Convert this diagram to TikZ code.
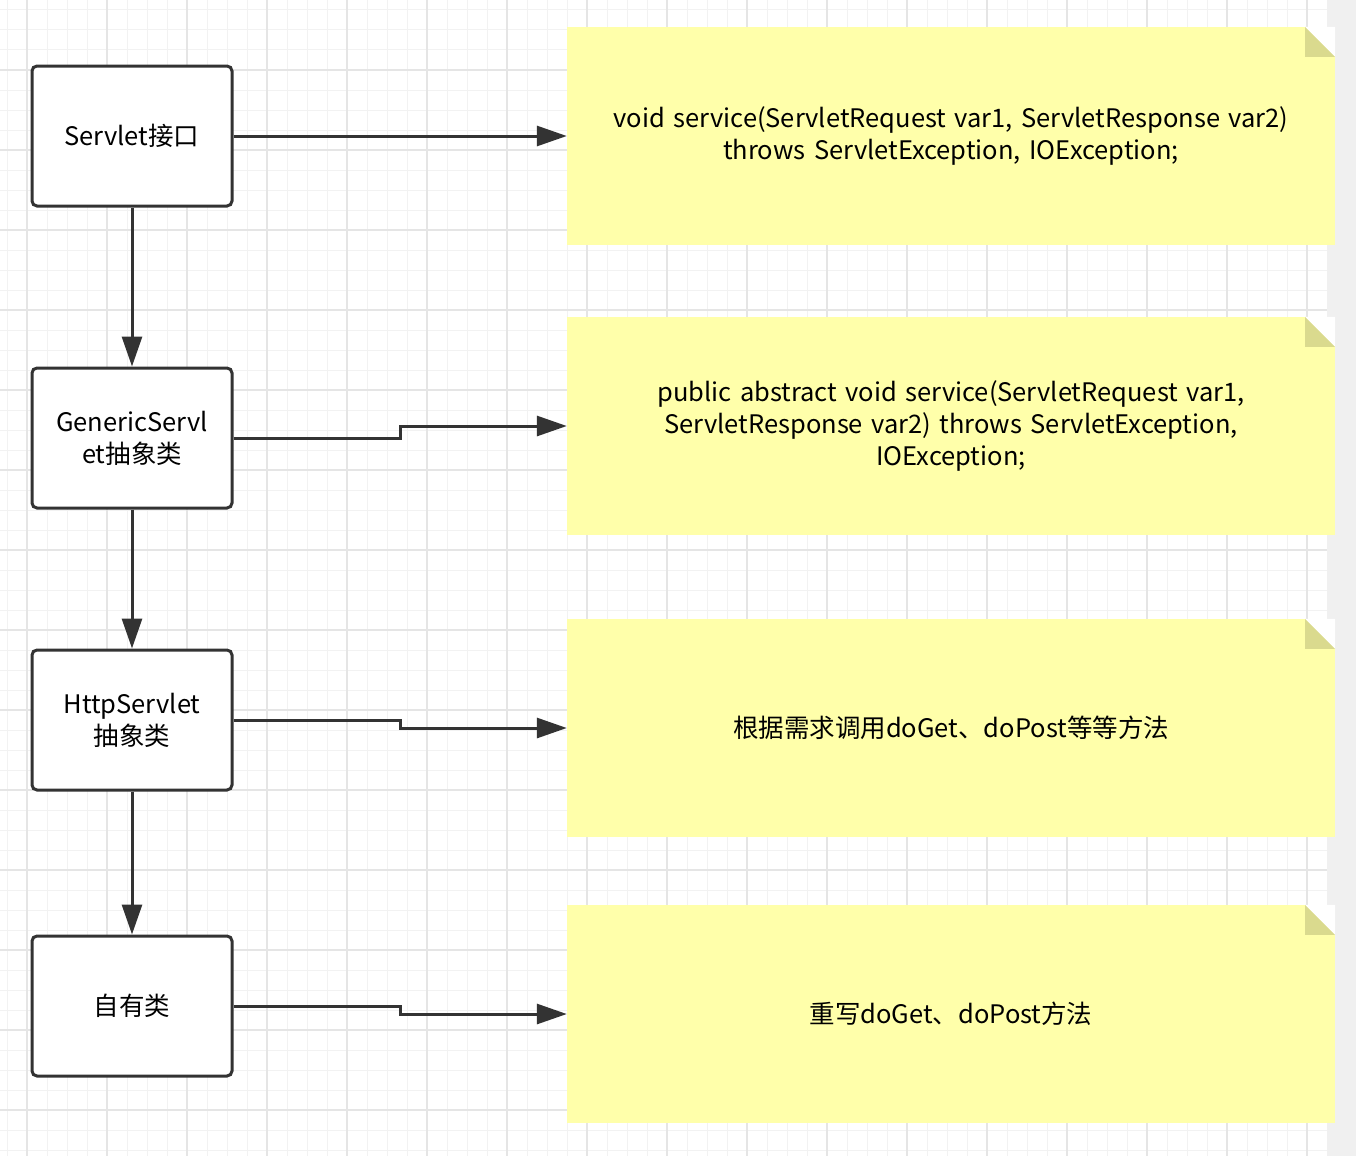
\documentclass[tikz,border=0pt]{standalone}
\usepackage{fontspec}
\setmainfont{Noto Sans CJK SC}
\usetikzlibrary{arrows.meta}
\definecolor{ln}{HTML}{333333}
\definecolor{note}{HTML}{FFFFAA}
\definecolor{fold}{HTML}{DADA8E}
\begin{document}
\begin{tikzpicture}[x=1pt,y=-1pt,
  box/.style={draw=ln,line width=3pt,rounded corners=5pt,minimum width=200pt,minimum height=140pt,fill=white,align=center,inner sep=4pt,font=\fontsize{25.5}{32}\selectfont,text width=170pt},
  notes/.style={fill=note,minimum width=768pt,minimum height=218pt,align=center,font=\fontsize{25.5}{32}\selectfont,text width=720pt,inner sep=0pt},
  arr/.style={draw=ln,line width=3pt,-{Triangle[length=30pt,width=20pt]}}]
\useasboundingbox (0,0) rectangle (1356,1156);
\fill[white] (0,0) rectangle (1356,1156);
\foreach \x in {7,27,...,1327} \draw[black!5,line width=1pt] (\x,0) -- (\x,1156);
\foreach \y in {10,30,...,1150} \draw[black!5,line width=1pt] (0,\y) -- (1327,\y);
\foreach \x in {27,107,...,1327} \draw[black!10,line width=1.5pt] (\x,0) -- (\x,1156);
\foreach \y in {70,150,...,1150} \draw[black!10,line width=1.5pt] (0,\y) -- (1327,\y);
\fill[black!6] (1327,0) rectangle (1356,1156);
\node[box] (b1) at (132,136) {Servlet接口};
\node[box] (b2) at (132,438) {GenericServl\\et抽象类};
\node[box] (b3) at (132,720) {HttpServlet\\抽象类};
\node[box] (b4) at (132,1006) {自有类};
\foreach \n/\y/\t in {n1/136/{void service(ServletRequest var1, ServletResponse var2)\\throws ServletException, IOException;\\[1.5em]},
  n2/426/{public abstract void service(ServletRequest var1,\\ServletResponse var2) throws ServletException,\\IOException;\\[0.4em]},
  n3/728/{根据需求调用doGet、doPost等等方法},
  n4/1014/{重写doGet、doPost方法}}{
  \node[notes] (\n) at (951,\y) {\t};
  \fill[fold] ([xshift=-30pt]\n.north east) -- ([yshift=-30pt]\n.north east) -- ([xshift=-30pt,yshift=-30pt]\n.north east) -- cycle;
  \fill[white] ([xshift=-30pt]\n.north east) -- (\n.north east) -- ([yshift=-30pt]\n.north east) -- cycle;
}
\draw[arr] (b1.east) -- (n1.west);
\draw[arr] (b2.east) -- (400,438) -- (400,426) -- (n2.west);
\draw[arr] (b3.east) -- (400,720) -- (400,728) -- (n3.west);
\draw[arr] (b4.east) -- (400,1006) -- (400,1014) -- (n4.west);
\draw[arr] (b1.south) -- (b2.north);
\draw[arr] (b2.south) -- (b3.north);
\draw[arr] (b3.south) -- (b4.north);
\end{tikzpicture}
\end{document}
